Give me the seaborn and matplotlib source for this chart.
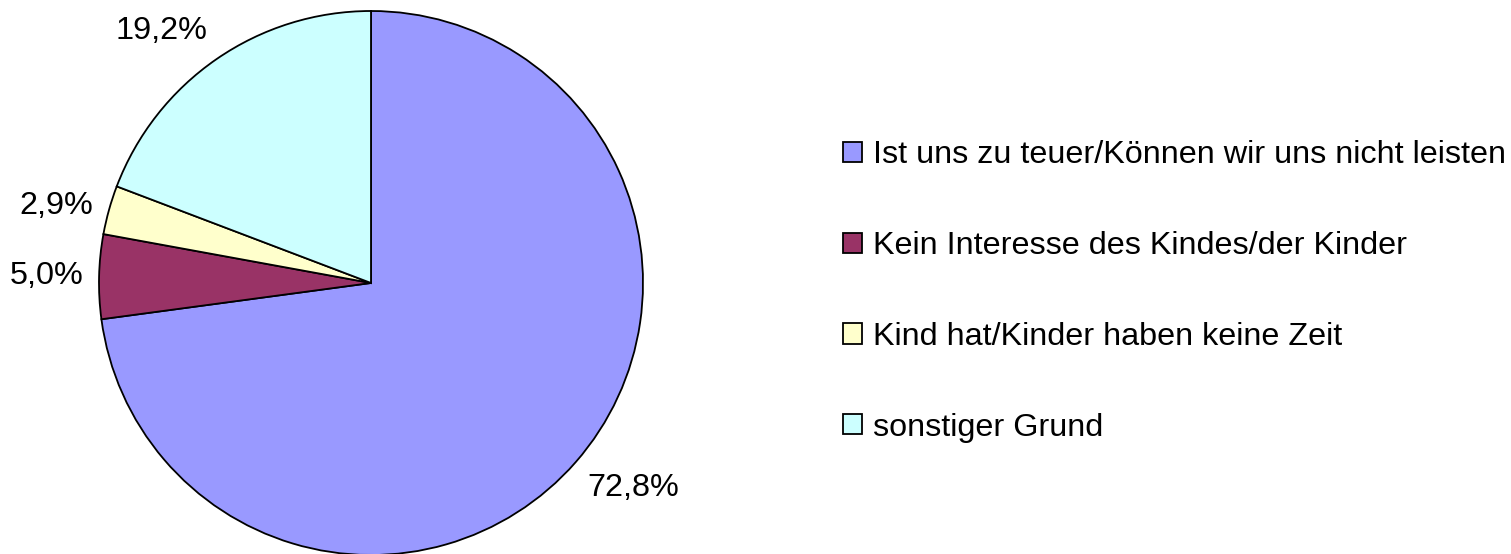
import matplotlib
matplotlib.use("Agg")
import numpy as np
import matplotlib.pyplot as plt
import seaborn as sns

sns.set_theme(style="white")
plt.rcParams['font.family'] = ['Liberation Sans', 'DejaVu Sans']
plt.rcParams['text.color'] = 'black'

# Gründe (Anteile in %)
categories = [
    "Ist uns zu teuer/Können wir uns nicht leisten",
    "Kein Interesse des Kindes/der Kinder",
    "Kind hat/Kinder haben keine Zeit",
    "sonstiger Grund",
]
shares = [72.8, 5.0, 2.9, 19.2]
colors = ["#9999FF", "#993366", "#FFFFCC", "#CCFFFF"]

W, H = 1511, 554
R_PX = 272          # pie radius in pixels
CX, CY = 371, 283   # pie centre in pixels (from top-left)
GAP = 16 / R_PX     # label gap outside the pie

fig = plt.figure(figsize=(W / 100, H / 100), dpi=100)
ax = fig.add_axes([0, 0, 1, 1])

total = sum(shares)


def fmt(p):
    return f"{p * total / 100:.1f}".replace(".", ",") + "%"


wedges, _, autotexts = ax.pie(
    shares,
    colors=colors,
    startangle=90,
    counterclock=False,
    autopct=fmt,
    wedgeprops=dict(edgecolor="black", linewidth=1.3),
    textprops=dict(fontsize=23.3, color="black"),
    frame=False,
)

# outside-end labels, anchored like Excel does it
for w, t in zip(wedges, autotexts):
    mid = np.deg2rad((w.theta1 + w.theta2) / 2)
    c, s = np.cos(mid), np.sin(mid)
    t.set_position(((1 + GAP) * c, (1 + GAP) * s))
    t.set_ha("left" if c > 0.3 else "right" if c < -0.3 else "center")
    t.set_va("bottom" if s > 0.3 else "top" if s < -0.3 else "center")

ax.set_xlim(-CX / R_PX, (W - CX) / R_PX)
ax.set_ylim(-(H - CY) / R_PX, CY / R_PX)
ax.set_aspect("equal")
ax.axis("off")

leg = fig.legend(
    wedges,
    categories,
    loc="center left",
    bbox_to_anchor=(843 / W, 1 - 291.5 / H),
    frameon=False,
    fontsize=23.3,
    labelcolor="black",
    handlelength=0.58,
    handleheight=0.58,
    handletextpad=0.34,
    labelspacing=1.88,
    borderpad=0,
    borderaxespad=0,
)
for h in leg.legend_handles:
    h.set_edgecolor("black")
    h.set_linewidth(1.3)

fig.savefig("out.png", dpi=100)
